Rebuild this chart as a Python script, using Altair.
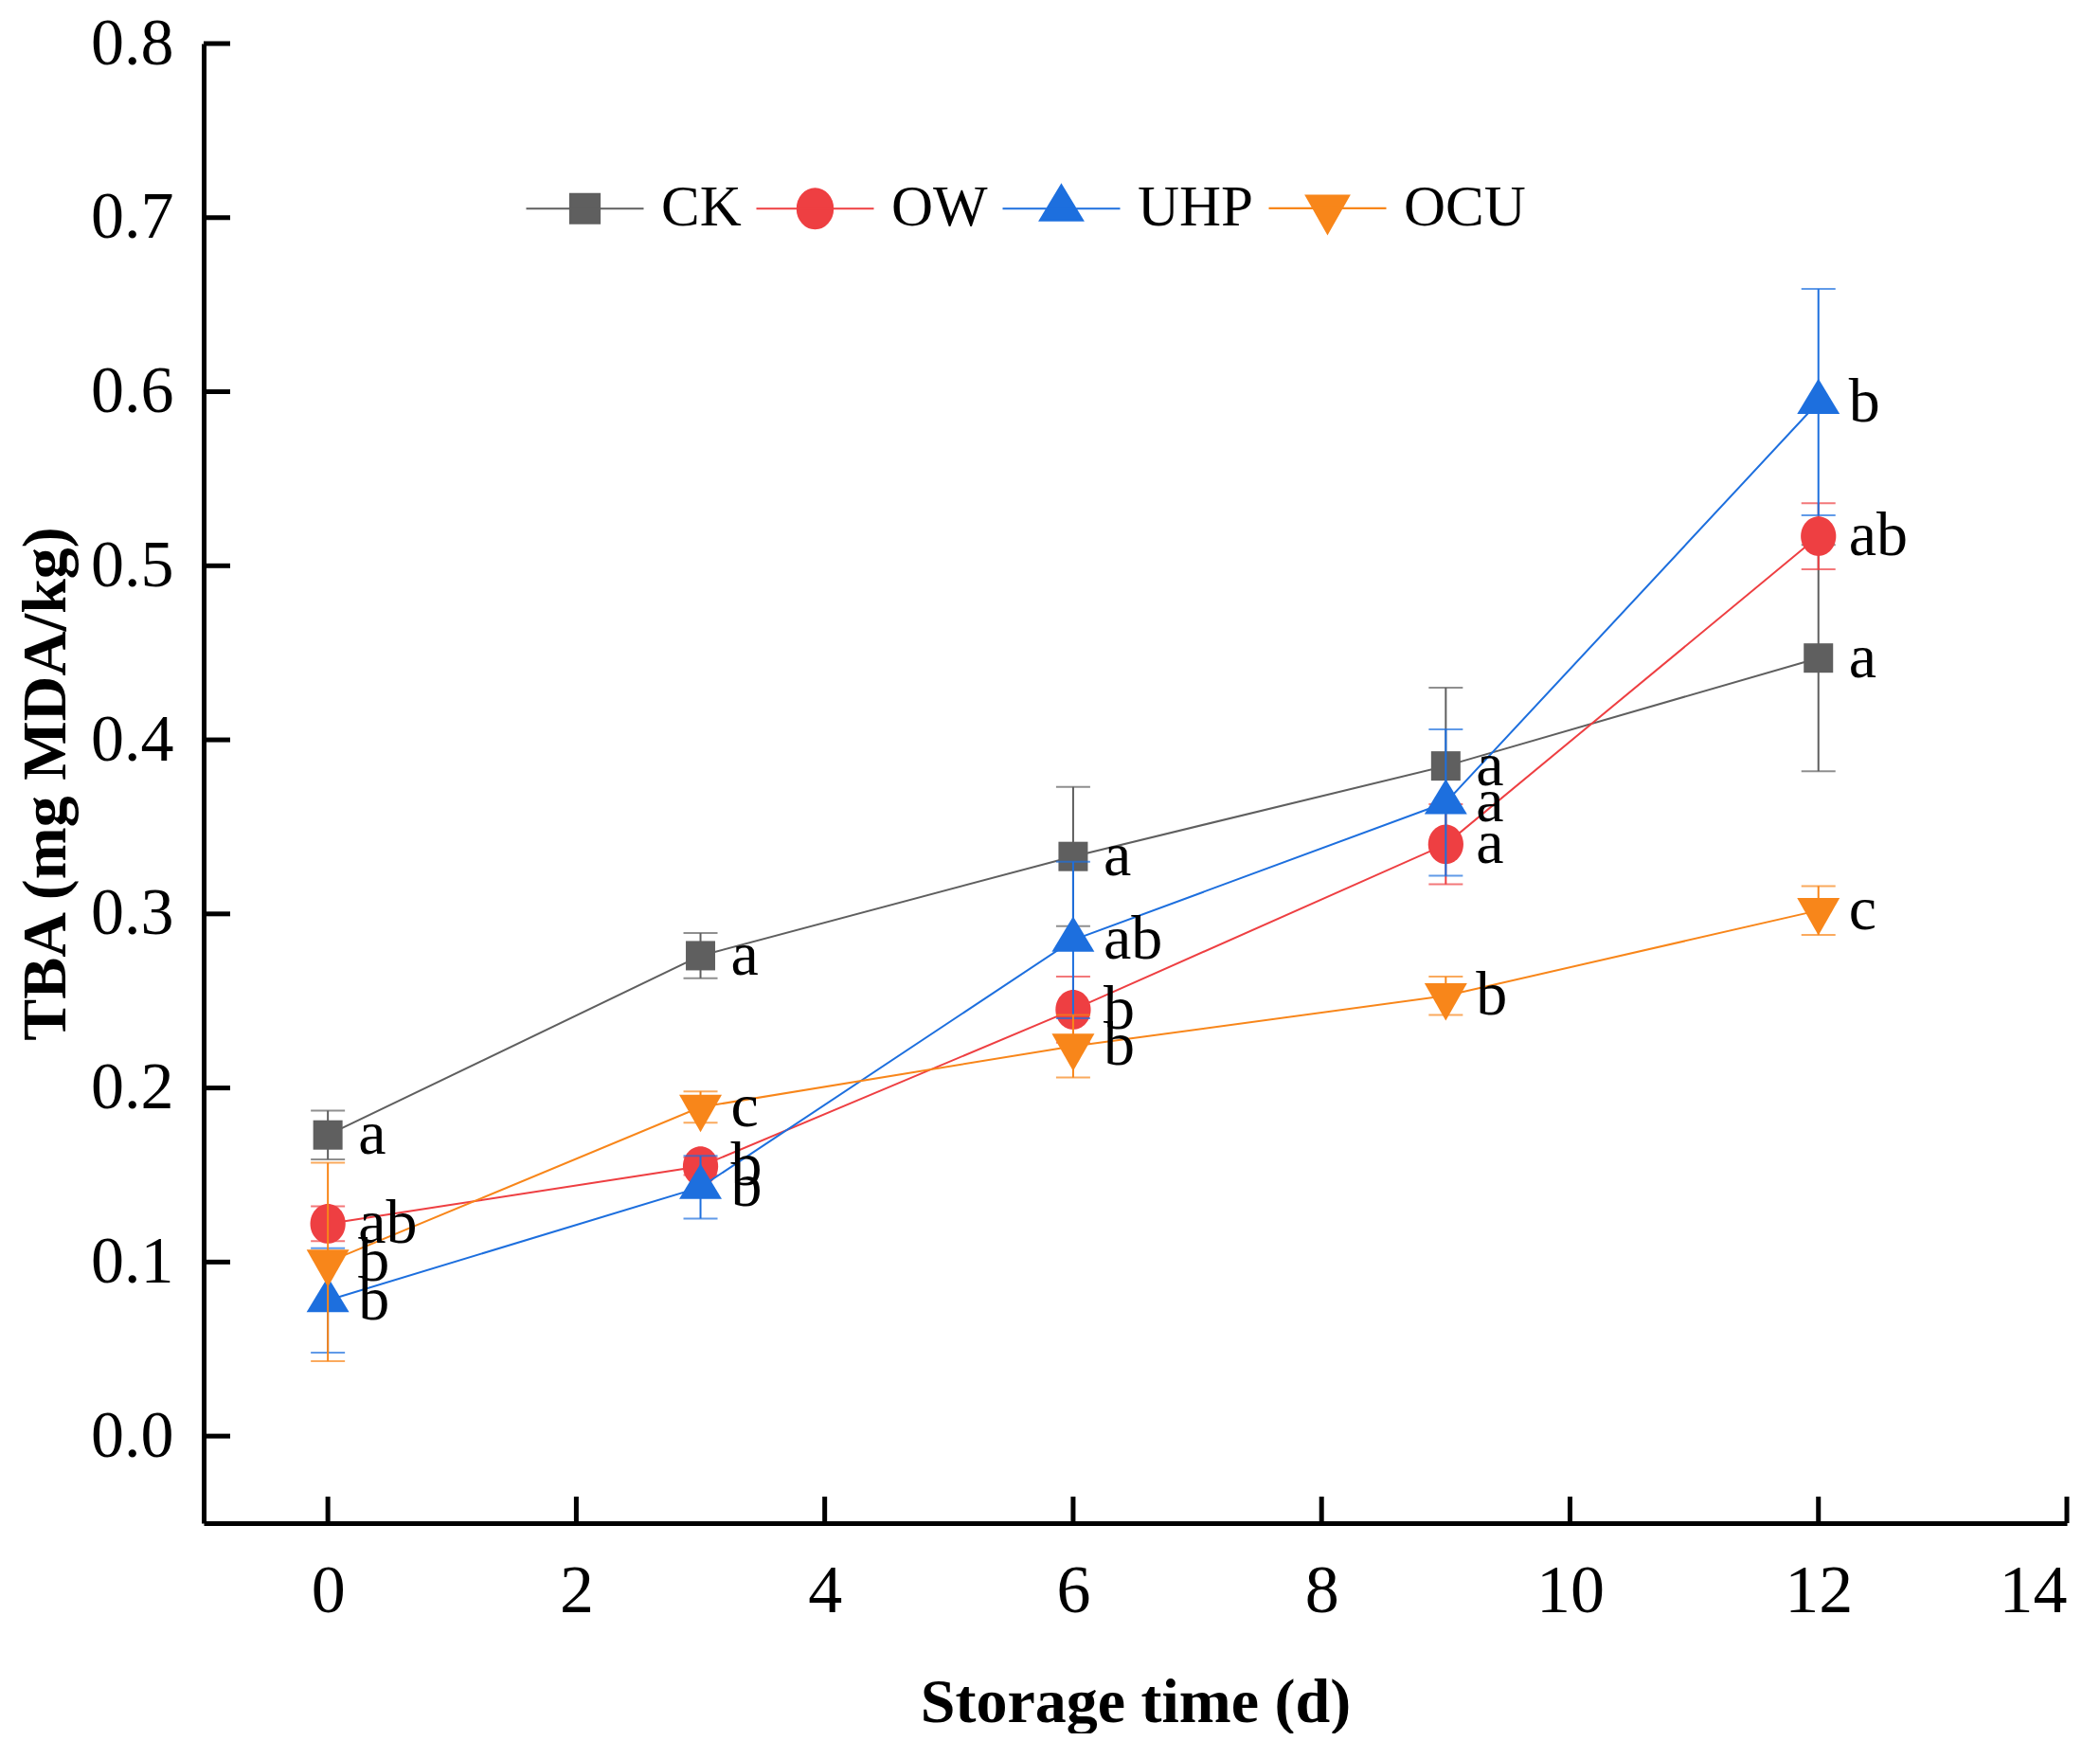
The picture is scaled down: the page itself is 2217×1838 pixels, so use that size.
import altair as alt
import pandas as pd

# ---------------- data ----------------
days = [0, 3, 6, 9, 12]
groups = ["CK", "OW", "UHP", "OCU"]

ck_mean = [0.173, 0.276, 0.333, 0.385, 0.447]
ck_sd = [0.014, 0.013, 0.040, 0.045, 0.065]
ck_sig = ["a", "a", "a", "a", "a"]

ow_mean = [0.122, 0.155, 0.245, 0.340, 0.517]
ow_sd = [0.010, 0.005, 0.019, 0.023, 0.019]
ow_sig = ["ab", "b", "b", "a", "ab"]

uhp_mean = [0.078, 0.143, 0.285, 0.364, 0.594]
uhp_sd = [0.030, 0.018, 0.045, 0.042, 0.065]
uhp_sig = ["b", "b", "ab", "a", "b"]

ocu_mean = [0.100, 0.189, 0.224, 0.253, 0.302]
ocu_sd = [0.057, 0.009, 0.018, 0.011, 0.014]
ocu_sig = ["b", "c", "b", "b", "c"]

x_ticks = [0, 2, 4, 6, 8, 10, 12, 14]
y_ticks = [0.0, 0.1, 0.2, 0.3, 0.4, 0.5, 0.6, 0.7, 0.8]

colors = ["#5f5f5f", "#ee3f42", "#1d6fde", "#f8861a"]

# marker outlines (unit square, scaled by sqrt(size)/2)
marker_paths = [
    "M-1,-1H1V1H-1Z",
    "M-1.2,0A1.2,1.35,0,1,1,1.2,0A1.2,1.35,0,1,1,-1.2,0Z",
    "M0,-1.6L1.45,0.8L-1.45,0.8Z",
    "M0,1.7L1.45,-0.85L-1.45,-0.85Z",
]
legend_paths = ["M-4,0H4" + p for p in marker_paths]

# ---------------- build table ----------------
means = [ck_mean, ow_mean, uhp_mean, ocu_mean]
sds = [ck_sd, ow_sd, uhp_sd, ocu_sd]
sigs = [ck_sig, ow_sig, uhp_sig, ocu_sig]
rows = []
for g, m, s, l in zip(groups, means, sds, sigs):
    for d, mi, si, li in zip(days, m, s, l):
        rows.append({"day": d, "grp": g, "tba": mi, "lo": mi - si, "hi": mi + si, "sig": li})
df = pd.DataFrame(rows)

W, H = 1967, 1562
SERIF = "Liberation Serif"
TICK_LEN = 28

x_scale = alt.Scale(domain=[-1, 14], nice=False, zero=False)
y_scale = alt.Scale(domain=[-0.05, 0.8], nice=False, zero=False)

x_axis = alt.Axis(values=x_ticks, grid=False, ticks=False, tickSize=0,
                  domainColor="black", domainWidth=5,
                  labelFont=SERIF, labelFontSize=72, labelColor="black", labelPadding=36,
                  titleFont=SERIF, titleFontSize=66, titleFontWeight="bold",
                  titleColor="black", titlePadding=50)
y_axis = alt.Axis(values=y_ticks, format=".1f", grid=False, ticks=False, tickSize=0,
                  domainColor="black", domainWidth=5,
                  labelFont=SERIF, labelFontSize=70, labelColor="black", labelPadding=32,
                  titleFont=SERIF, titleFontSize=66, titleFontWeight="bold",
                  titleColor="black", titlePadding=13)

X_TITLE = "Storage time (d)"
Y_TITLE = "TBA (mg MDA/kg)"


def xenc(field="day"):
    return alt.X(f"{field}:Q", scale=x_scale, axis=x_axis, title=X_TITLE)


def yenc(field="tba"):
    return alt.Y(f"{field}:Q", scale=y_scale, axis=y_axis, title=Y_TITLE)


base = alt.Chart(df)

# each series drawn in turn (line, error bars, caps, markers), like the original
series_layers = []
for g, c, p in zip(groups, colors, marker_paths):
    sub = base.transform_filter(alt.datum.grp == g)
    series_layers += [
        sub.mark_line(strokeWidth=2, color=c).encode(x=xenc(), y=yenc()),
        sub.mark_rule(strokeWidth=2, color=c).encode(x=xenc(), y=yenc("lo"), y2="hi:Q"),
        sub.mark_tick(orient="horizontal", size=36, thickness=2, color=c).encode(
            x=xenc(), y=yenc("lo")),
        sub.mark_tick(orient="horizontal", size=36, thickness=2, color=c).encode(
            x=xenc(), y=yenc("hi")),
        sub.mark_point(shape=p, filled=True, opacity=1, size=961, color=c).encode(
            x=xenc(), y=yenc()),
    ]

labels = base.mark_text(align="left", baseline="middle", dx=32, font=SERIF,
                        fontSize=66, color="black").encode(x=xenc(), y=yenc(), text="sig:N")

leg = alt.Legend(orient="none", legendX=372, legendY=143, direction="horizontal",
                 symbolSize=961, symbolStrokeWidth=2.2, symbolOpacity=1,
                 labelFont=SERIF, labelFontSize=61, labelColor="black",
                 labelOffset=50, columnPadding=11, padding=0)

# invisible marks that only carry the legend (line + marker symbols)
legend_layer = base.mark_point(
    filled=True, opacity=0, size=961, strokeWidth=2.2
).encode(
    x=xenc(), y=yenc(),
    fill=alt.Fill("grp:N", scale=alt.Scale(domain=groups, range=colors), title=None, legend=leg),
    stroke=alt.Stroke("grp:N", scale=alt.Scale(domain=groups, range=colors), title=None, legend=leg),
    shape=alt.Shape("grp:N", scale=alt.Scale(domain=groups, range=legend_paths), title=None,
                    legend=leg),
)

ytick_layer = alt.Chart(pd.DataFrame({"tba": y_ticks})).mark_rule(
    color="black", strokeWidth=5).encode(y=yenc(), x=alt.value(0), x2=alt.value(TICK_LEN))
xtick_layer = alt.Chart(pd.DataFrame({"day": x_ticks})).mark_rule(
    color="black", strokeWidth=5).encode(x=xenc(), y=alt.value(H), y2=alt.value(H - TICK_LEN))

chart = alt.layer(
    *series_layers, labels, legend_layer, ytick_layer, xtick_layer
).properties(
    width=W, height=H,
    background="white",
    autosize=alt.AutoSizeParams(type="none"),
    padding={"left": 207, "top": 38, "right": 27, "bottom": 222},
).configure_view(stroke=None)

chart.save("out.html", embed_options={"renderer": "svg", "actions": False})
